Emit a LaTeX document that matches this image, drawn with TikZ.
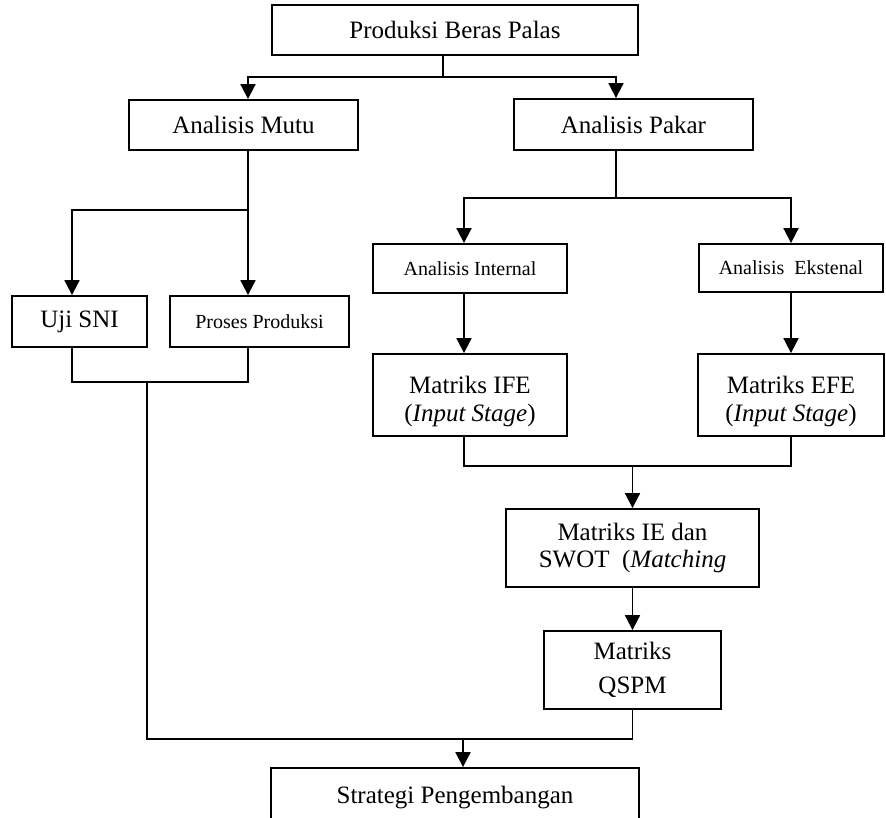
\documentclass[tikz,border=0pt]{standalone}
\usepackage{fontspec}
\setmainfont{Liberation Serif}
\usetikzlibrary{arrows.meta}
\tikzset{
	box/.style={draw, line width=1.8pt, inner sep=0pt, align=center, font=\fontsize{25}{27}\selectfont},
	smallbox/.style={box, font=\fontsize{20}{24}\selectfont},
	flow/.style={line width=1.8pt},
	flowarrow/.style={flow, -{Triangle[width=15pt,length=15pt]}}
}

\begin{document}
\begin{tikzpicture}[x=1pt, y=-1pt]
				\useasboundingbox (0,0) rectangle (886,818);
				\node[box, minimum width=366pt, minimum height=50pt] (Produksi) at (455,30) {Produksi Beras Palas};
				\node[box, minimum width=229pt, minimum height=50pt] (Mutu) at (243.5,125) {Analisis Mutu};
				\node[box, minimum width=239pt, minimum height=51pt] (Pakar) at (633.5,124.5) {Analisis Pakar};
				\node[box, minimum width=135pt, minimum height=51pt] (UjiSNI) at (79.5,321.5) {Uji SNI};
				\node[smallbox, minimum width=179pt, minimum height=51pt] (Proses) at (259.5,321.5) {Proses Produksi};
				\node[smallbox, minimum width=194pt, minimum height=49pt] (Internal) at (470,268.5) {Analisis Internal};
				\node[smallbox, minimum width=184pt, minimum height=48pt] (Ekstenal) at (791,268) {Analisis\ \ Ekstenal};
				\node[box, minimum width=194pt, minimum height=82pt, font=\fontsize{25}{28}\selectfont] (IFE) at (470,395) {\rule{0pt}{30pt}Matriks IFE\\(\textit{Input Stage})};
				\node[box, minimum width=186pt, minimum height=82pt, font=\fontsize{25}{28}\selectfont] (EFE) at (791,395) {\rule{0pt}{30pt}Matriks EFE\\(\textit{Input Stage})};
				\node[box, minimum width=253pt, minimum height=78pt] (IESWOT) at (632.5,548) {Matriks IE dan\\SWOT\ \ (\textit{Matching}};
				\node[box, minimum width=177pt, minimum height=78pt, font=\fontsize{25}{34}\selectfont] (QSPM) at (632.5,670) {Matriks\\QSPM};
				\node[box, minimum width=368pt, minimum height=60pt] (Strategi) at (455,798) {Strategi Pengembangan};
				
				% titik percabangan
				\coordinate (jTop) at (443,77);
				\coordinate (jMutu) at (248,210);
				\coordinate (jPakar) at (616,198);
				\coordinate (jLeft) at (147,382);
				\coordinate (jRight) at (632.5,466);
				\coordinate (jEnd) at (463,739);
				
				\draw[flow] (Produksi.south -| jTop) -- (jTop);
				\draw[flowarrow] (jTop) -| (Mutu.north -| jMutu);
				\draw[flowarrow] (jTop) -| (Pakar.north -| jPakar);
				
				\draw[flow] (Mutu.south -| jMutu) -- (jMutu);
				\draw[flowarrow] (jMutu) -| ([xshift=-7.5pt]UjiSNI.north);
				\draw[flowarrow] (jMutu) -- (Proses.north -| jMutu);
				\draw[flow] ([xshift=-7.5pt]UjiSNI.south) |- (jLeft) -| (Proses.south -| jMutu);
				\draw[flow] (jLeft) |- (QSPM.south |- jEnd) -- (QSPM.south);
				\draw[flowarrow] (jEnd) -- (Strategi.north -| jEnd);
				
				\draw[flow] (Pakar.south -| jPakar) -- (jPakar);
				\draw[flowarrow] (jPakar) -| ([xshift=-6pt]Internal.north);
				\draw[flowarrow] (jPakar) -| (Ekstenal.north);
				\draw[flowarrow] ([xshift=-6pt]Internal.south) -- ([xshift=-6pt]IFE.north);
				\draw[flowarrow] (Ekstenal) -- (EFE);
				\draw[flow] ([xshift=-6pt]IFE.south) |- (jRight) -| (EFE.south);
				\draw[flowarrow] (jRight) -- (IESWOT);
				\draw[flowarrow] (IESWOT) -- (QSPM);
				
\end{tikzpicture}
\end{document}
